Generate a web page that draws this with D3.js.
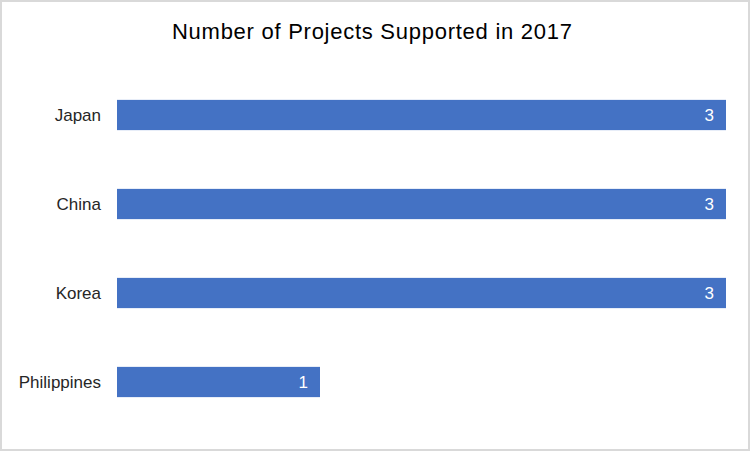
<!DOCTYPE html>
<html>
<head>
<meta charset="utf-8">
<script src="https://cdn.jsdelivr.net/npm/d3@7"></script>
<style>
  body { margin: 0; background: #fff; }
  text { font-family: "Liberation Sans Narrow", "Liberation Sans", "DejaVu Sans Condensed", sans-serif; }
</style>
</head>
<body>
<div id="chart"></div>
<script>
// data
var countries = ["Japan", "China", "Korea", "Philippines"];
var projects = [3, 3, 3, 1];
var chartTitle = "Number of Projects Supported in 2017";

var W = 750, H = 451;
var svg = d3.select("#chart").append("svg")
    .attr("width", W)
    .attr("height", H);

// outer border
svg.append("rect")
    .attr("x", 1).attr("y", 1)
    .attr("width", W - 2).attr("height", H - 2)
    .attr("fill", "#fff")
    .attr("stroke", "#d9d9d9")
    .attr("stroke-width", 2);

svg.append("text")
    .attr("x", 372).attr("y", 39)
    .attr("text-anchor", "middle")
    .attr("font-size", "22px")
    .attr("textLength", 400)
    .attr("lengthAdjust", "spacing")
    .attr("fill", "#000")
    .text(chartTitle);

var x = d3.scaleLinear().domain([0, 3]).range([117, 726]);
var y = d3.scaleBand().domain(countries).range([70.5, 426.5]).paddingInner(0.66).paddingOuter(0.33);

// bars
svg.selectAll("rect.bar")
    .data(countries)
    .enter()
    .append("rect")
    .attr("class", "bar")
    .attr("x", x(0))
    .attr("y", function (d) { return y(d); })
    .attr("width", function (d, i) { return x(projects[i]) - x(0); })
    .attr("height", y.bandwidth())
    .attr("fill", "#4472c4");

// category labels
svg.selectAll("text.cat")
    .data(countries)
    .enter()
    .append("text")
    .attr("class", "cat")
    .attr("x", 101)
    .attr("y", function (d) { return y(d) + y.bandwidth() / 2; })
    .attr("dy", "0.35em")
    .attr("text-anchor", "end")
    .attr("font-size", "17px")
    .attr("fill", "#262626")
    .text(function (d) { return d; });

// value labels
svg.selectAll("text.val")
    .data(countries)
    .enter()
    .append("text")
    .attr("class", "val")
    .attr("x", function (d, i) { return x(projects[i]) - 12; })
    .attr("y", function (d) { return y(d) + y.bandwidth() / 2; })
    .attr("dy", "0.35em")
    .attr("text-anchor", "end")
    .attr("font-size", "17px")
    .attr("fill", "#fff")
    .text(function (d, i) { return projects[i]; });
</script>
</body>
</html>
